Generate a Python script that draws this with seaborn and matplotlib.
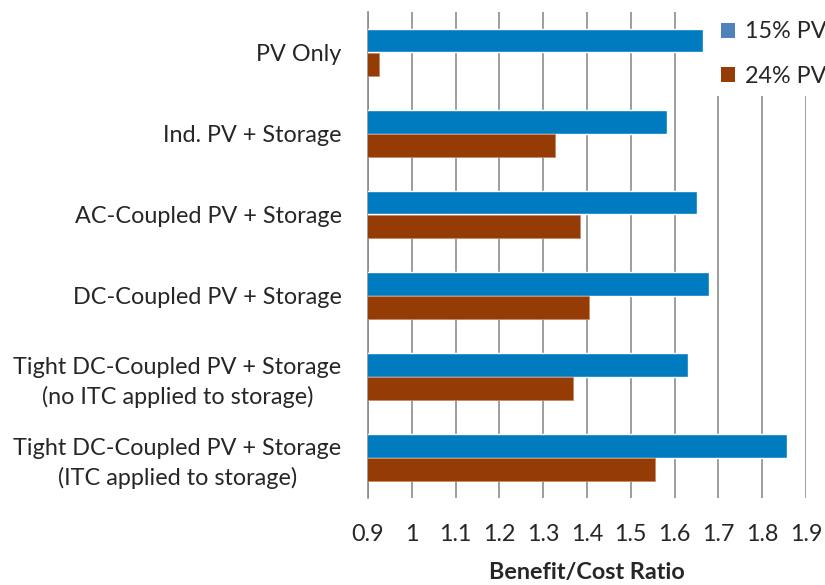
import matplotlib
matplotlib.use("Agg")
import matplotlib.pyplot as plt
from matplotlib.patches import Patch
from matplotlib.ticker import FixedLocator
import numpy as np
import pandas as pd
import seaborn as sns

# Configurations compared
configs = [
    "PV Only",
    "Ind. PV + Storage",
    "AC-Coupled PV + Storage",
    "DC-Coupled PV + Storage",
    "Tight DC-Coupled PV + Storage\n(no ITC applied to storage)",
    "Tight DC-Coupled PV + Storage\n(ITC applied to storage)",
]
scenarios = ["15% PV", "24% PV"]

# Benefit/cost ratios per penetration scenario
ratio_15 = [1.665, 1.582, 1.650, 1.679, 1.631, 1.857]
ratio_24 = [0.926, 1.326, 1.383, 1.405, 1.367, 1.555]

xticks = [0.9, 1.0, 1.1, 1.2, 1.3, 1.4, 1.5, 1.6, 1.7, 1.8, 1.9]

bar_colors = ["#007BC0", "#943B06"]
legend_colors = ["#4F81BD", "#943B06"]
grid_color = "#8C8C8C"

df = pd.DataFrame({
    "config": configs * 2,
    "ratio": ratio_15 + ratio_24,
    "scenario": [scenarios[0]] * len(configs) + [scenarios[1]] * len(configs),
})

sns.set_style("white")
plt.rcParams["font.family"] = ["Lato", "DejaVu Sans"]
FS = 16.8

fig = plt.figure(figsize=(8.25, 5.85), dpi=100)
ax = fig.add_axes([368 / 825, 1 - 498 / 585, (806 - 368) / 825, (498 - 12) / 585])

sns.barplot(
    data=df, x="ratio", y="config", hue="scenario", order=configs,
    hue_order=scenarios, palette=bar_colors, orient="h", width=0.57,
    saturation=1, dodge=True, legend=False, ax=ax, zorder=3,
)

# thin lighter outline on the brown bars
for bar in ax.containers[1]:
    bar.set_edgecolor("#C98A63")
    bar.set_linewidth(0.6)

ax.set_xlim(0.9, 1.9)
ax.set_ylim(len(configs) - 0.5, -0.5)

ax.set_xticks(xticks)
ax.set_xticklabels([f"{v:g}" for v in xticks], fontsize=FS)
ax.tick_params(axis="x", direction="out", length=7, width=1.2,
               color=grid_color, pad=12)
ax.xaxis.grid(True, color=grid_color, linewidth=1.2, zorder=0)
ax.set_axisbelow(True)

ax.set_yticks(range(len(configs)))
ax.set_yticklabels(configs, fontsize=FS, linespacing=1.45)
ax.tick_params(axis="y", which="major", length=0, pad=19)
ax.yaxis.set_minor_locator(FixedLocator(np.arange(-0.5, len(configs), 1.0)))
ax.tick_params(axis="y", which="minor", direction="out", length=7,
               width=1.2, color=grid_color)
for lbl in ax.get_yticklabels():
    lbl.set_horizontalalignment("right")
    lbl.set_multialignment("center")

for side in ["top", "right", "bottom"]:
    ax.spines[side].set_visible(False)
ax.spines["left"].set_color(grid_color)
ax.spines["left"].set_linewidth(1.2)

ax.set_ylabel("")
ax.set_xlabel("Benefit/Cost Ratio", fontsize=FS, fontweight="bold")
ax.xaxis.set_label_coords(0.5, -(562 - 498) / 486)

handles = [Patch(facecolor=c, edgecolor="none") for c in legend_colors]
leg = ax.legend(
    handles, scenarios, loc="upper left", bbox_to_anchor=(712 / 825, 1 - 12 / 585),
    bbox_transform=fig.transFigure, frameon=True, fontsize=FS,
    handlelength=0.6, handleheight=0.6, handletextpad=0.4,
    labelspacing=1.0, borderpad=0.4, borderaxespad=0,
)
leg.get_frame().set_facecolor("white")
leg.get_frame().set_edgecolor("none")
leg.get_frame().set_alpha(1)
leg.get_frame().set_boxstyle("square", pad=0)
leg.set_zorder(10)

fig.savefig("out.png", dpi=100)
